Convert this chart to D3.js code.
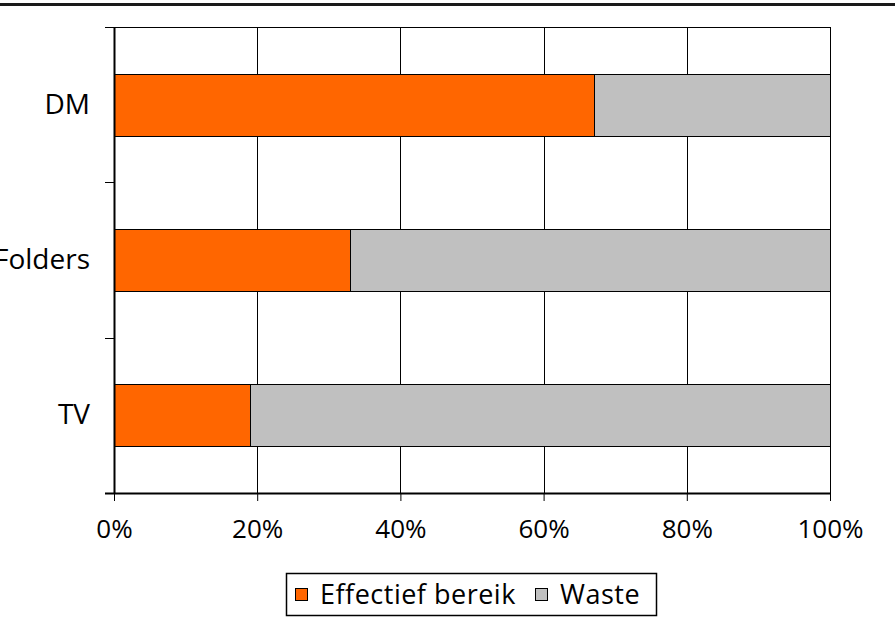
<!DOCTYPE html>
<html>
<head>
<meta charset="utf-8">
<script src="https://cdn.jsdelivr.net/npm/d3@7"></script>
<style>
  html, body { margin: 0; padding: 0; background: #fff; }
  svg text { font-family: "Open Sans", "Noto Sans", sans-serif; fill: #000; }
</style>
</head>
<body>
<svg id="chart" width="895" height="627"></svg>
<script>
// Media reach split: effective reach versus waste, share of total (%)
const categories = ["DM", "Folders", "TV"];
const effectiefBereik = [67, 33, 19];
const waste = [33, 67, 81];
const seriesNames = ["Effectief bereik", "Waste"];
const seriesColors = ["#FF6600", "#C0C0C0"];
const xTicks = [0, 20, 40, 60, 80, 100];

const svg = d3.select("#chart");
const margin = { left: 114, right: 65, top: 27, bottom: 134 };
const W = 895, H = 627;
const innerW = W - margin.left - margin.right;
const innerH = H - margin.top - margin.bottom;

// rule across the top of the page
svg.append("line")
  .attr("x1", 0).attr("x2", W).attr("y1", 4.5).attr("y2", 4.5)
  .attr("stroke", "#1a1a1a").attr("stroke-width", 3);

const g = svg.append("g").attr("transform", `translate(${margin.left},${margin.top})`);

const x = d3.scaleLinear().domain([0, 100]).range([0, innerW]);
const y = d3.scaleBand().domain(categories).range([0, innerH]).paddingInner(0.6).paddingOuter(0.3);
const yBand = d3.scaleBand().domain(categories).range([0, innerH]);

// vertical gridlines
g.selectAll("line.grid").data(xTicks.slice(1)).enter().append("line")
  .attr("class", "grid")
  .attr("x1", d => Math.round(x(d)) + 0.5).attr("x2", d => Math.round(x(d)) + 0.5)
  .attr("y1", 0).attr("y2", innerH)
  .attr("stroke", "#000").attr("stroke-width", 1);

// top border of the plot area
g.append("line")
  .attr("x1", -9).attr("x2", Math.round(x(100)) + 0.5).attr("y1", 0.5).attr("y2", 0.5)
  .attr("stroke", "#000").attr("stroke-width", 1);

// stacked bars
const stacked = categories.map((c, i) => ({
  cat: c,
  parts: [
    { key: 0, x0: 0, x1: effectiefBereik[i] },
    { key: 1, x0: effectiefBereik[i], x1: effectiefBereik[i] + waste[i] }
  ]
}));

const rows = g.selectAll("g.row").data(stacked).enter().append("g").attr("class", "row");
rows.selectAll("rect").data(d => d.parts.map(p => ({ ...p, cat: d.cat }))).enter().append("rect")
  .attr("x", d => Math.round(x(d.x0)) + 0.5)
  .attr("y", d => Math.round(y(d.cat)) + 0.5)
  .attr("width", d => Math.round(x(d.x1)) - Math.round(x(d.x0)))
  .attr("height", Math.round(y.bandwidth()))
  .attr("fill", d => seriesColors[d.key])
  .attr("stroke", "#000").attr("stroke-width", 1);

// y axis
const yAxis = g.append("g")
  .call(d3.axisLeft(y).tickSize(0).tickPadding(24));
yAxis.select(".domain").remove();
yAxis.selectAll("text").style("font-size", "28px");
g.append("line")
  .attr("x1", 0.5).attr("x2", 0.5).attr("y1", 0).attr("y2", innerH)
  .attr("stroke", "#000").attr("stroke-width", 2);
// y tick marks at band boundaries
const yBounds = categories.map(c => yBand(c)).concat([innerH]);
g.selectAll("line.ytick").data(yBounds).enter().append("line")
  .attr("class", "ytick")
  .attr("x1", -9).attr("x2", 0)
  .attr("y1", d => Math.round(d) + 0.5).attr("y2", d => Math.round(d) + 0.5)
  .attr("stroke", "#000").attr("stroke-width", 1);

// x axis
const xAxis = g.append("g")
  .attr("transform", `translate(0,${innerH})`)
  .call(d3.axisBottom(x).tickValues(xTicks).tickFormat(d => d + "%").tickSize(8).tickSizeOuter(0).tickPadding(19));
xAxis.select(".domain").attr("d", `M-9,0.5H${innerW + 0.5}`).attr("stroke-width", 2);
xAxis.selectAll(".tick line").attr("stroke-width", 1);
xAxis.selectAll("text").style("font-size", "26px");

// legend
const legend = svg.append("g").attr("transform", "translate(286,573)");
legend.append("rect")
  .attr("x", 0.5).attr("y", 0.5).attr("width", 370).attr("height", 42)
  .attr("fill", "#fff").attr("stroke", "#000").attr("stroke-width", 1.5);
const items = [{ x: 9, tx: 34 }, { x: 249, tx: 274 }];
seriesNames.forEach((name, i) => {
  legend.append("rect")
    .attr("x", items[i].x + 0.5).attr("y", 15.5).attr("width", 12).attr("height", 12)
    .attr("fill", seriesColors[i]).attr("stroke", "#000").attr("stroke-width", 1);
  legend.append("text")
    .attr("x", items[i].tx).attr("y", 31)
    .style("font-size", "27px").style("letter-spacing", "0.5px")
    .text(name);
});
</script>
</body>
</html>
